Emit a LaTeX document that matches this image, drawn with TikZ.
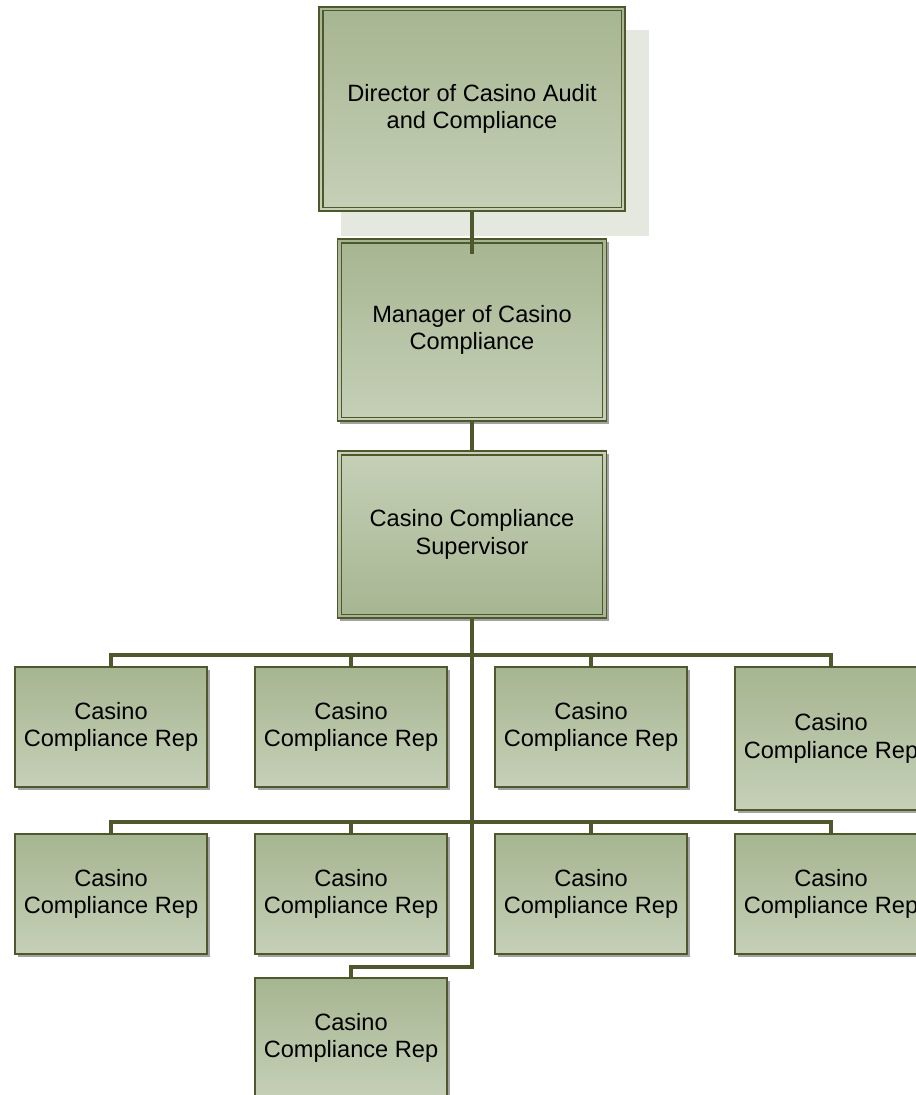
\documentclass[tikz,border=0pt]{standalone}
\usepackage{fontspec}
\setmainfont{Liberation Sans}
\usepackage{tikz}
\usetikzlibrary{positioning,shadows,backgrounds,calc}

\definecolor{boxtop}{RGB}{166,181,145}
\definecolor{boxbot}{RGB}{197,208,183}
\definecolor{edge}{RGB}{78,88,44}
\definecolor{haze}{RGB}{228,232,222}

\begin{document}
\begin{tikzpicture}[x=0.75pt, y=-0.75pt,
    card/.style={rectangle, draw=edge, line width=1.1pt, align=center, font=\fontsize{17.7}{20.5}\selectfont, top color=boxtop, bottom color=boxbot},
    post/.style={card, drop shadow={shadow xshift=2.2pt, shadow yshift=-2.2pt, fill=black!45, opacity=0.8}},
    head/.style={post, minimum width=201.75pt},
    rep/.style={post, minimum width=144pt, minimum height=90pt},
    frame/.style={draw=edge, line width=1.1pt},
    link/.style={draw=edge, line width=2.3pt}]

\useasboundingbox (0,0) rectangle (916,1095);

% Upper chain of command
\node[card, minimum width=229.5pt, minimum height=153pt] (dir) at (472,109) {Director of Casino Audit\\and Compliance};
\node[head, minimum height=136.5pt] (mgr) at (472,330) {Manager of Casino\\Compliance};
\node[head, minimum height=125.25pt, top color=boxbot, bottom color=boxtop] (sup) at (472,534.5) {Casino Compliance\\Supervisor};

% Light offset block behind the director
\begin{scope}[on background layer]
\fill[haze] ($(dir.north west)+(23,24)$) rectangle ($(dir.south east)+(23,24)$);
\end{scope}

% Inner frame of the double borders
\foreach \n in {dir,mgr,sup}
  \draw[frame] ($(\n.north west)+(4.5,4.5)$) rectangle ($(\n.south east)+(-4.5,-4.5)$);

% Reps, first row
\foreach \i/\x in {1/111,2/351,3/591}
  \node[rep] (ra\i) at (\x,727) {Casino\\Compliance Rep};
\node[rep, minimum height=107.25pt] (ra4) at (831,738.5) {Casino\\Compliance Rep};

% Reps, second row
\foreach \i/\x in {1/111,2/351,3/591,4/831}
  \node[rep] (rb\i) at (\x,894) {Casino\\Compliance Rep};

% Reps, third row
\node[rep] (rc1) at (351,1038) {Casino\\Compliance Rep};

% Branch points on the trunk
\coordinate (busa) at (472,655);
\coordinate (busb) at (472,822);
\coordinate (busc) at (472,967);

% Connectors
\draw[link] (dir.south) -- ($(mgr.north)+(0,16)$);
\draw[link] (mgr.south) -- (sup.north);
\draw[link] (sup.south) -- (busc) -| (rc1.north);
\foreach \n in {ra1,ra2,ra3,ra4}
  \draw[link] (busa) -| (\n.north);
\foreach \n in {rb1,rb2,rb3,rb4}
  \draw[link] (busb) -| (\n.north);

\end{tikzpicture}
\end{document}
